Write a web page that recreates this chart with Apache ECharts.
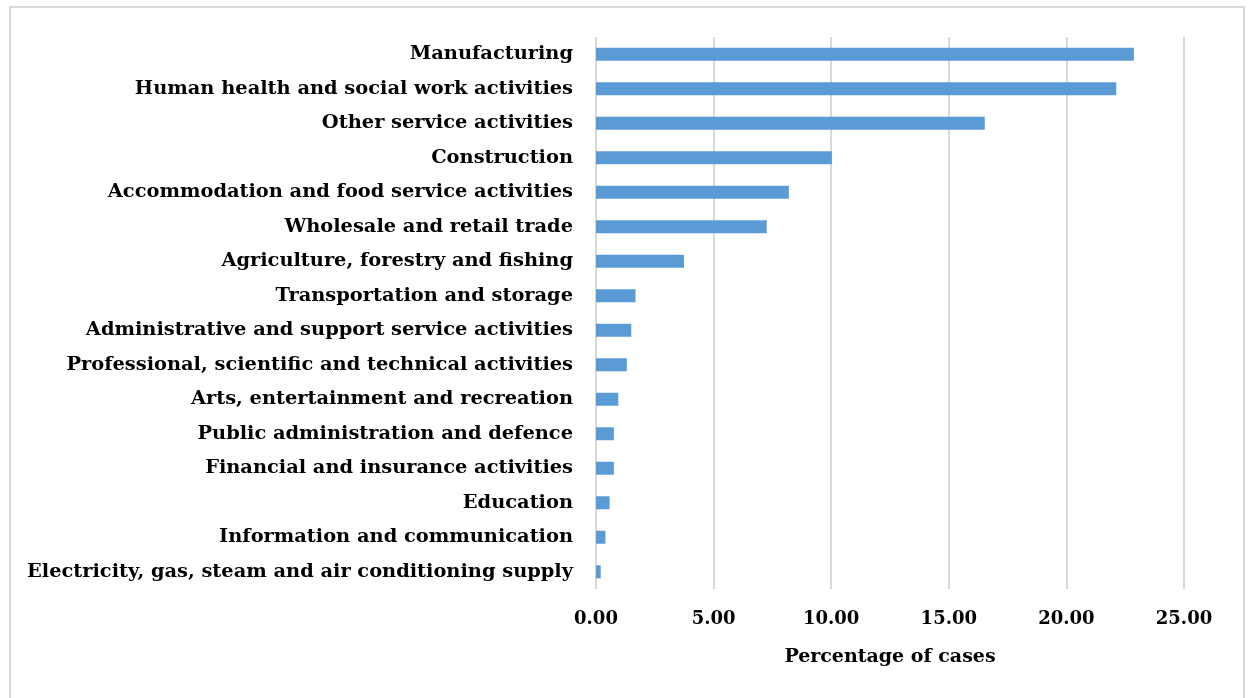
<!DOCTYPE html>
<html>
<head>
<meta charset="utf-8">
<title>Percentage of cases by sector</title>
<script src="https://cdn.jsdelivr.net/npm/echarts@6/dist/echarts.min.js"></script>
<style>
  html, body { margin: 0; padding: 0; background: #fff; }
  #chart { width: 1251px; height: 698px; }
</style>
</head>
<body>
<div id="chart"></div>
<script>
// Sectors, listed top to bottom
const sectors = [
  'Manufacturing',
  'Human health and social work activities',
  'Other service activities',
  'Construction',
  'Accommodation and food service activities',
  'Wholesale and retail trade',
  'Agriculture, forestry and fishing',
  'Transportation and storage',
  'Administrative and support service activities',
  'Professional, scientific and technical activities',
  'Arts, entertainment and recreation',
  'Public administration and defence',
  'Financial and insurance activities',
  'Education',
  'Information and communication',
  'Electricity, gas, steam and air conditioning supply'
];

// Share of cases per sector (%)
const percentages = [22.87, 22.12, 16.53, 10.03, 8.20, 7.26, 3.74, 1.68, 1.50, 1.31, 0.95, 0.76, 0.76, 0.58, 0.40, 0.20];

// Value axis settings
const axisMin = 0;
const axisMax = 25;
const axisStep = 5;
const axisTitle = 'Percentage of cases';

const fontFamily = 'DejaVu Serif, Liberation Serif, serif';

const chart = echarts.init(document.getElementById('chart'), null, { renderer: 'canvas' });

chart.setOption({
  backgroundColor: '#ffffff',
  animation: false,
  graphic: [{
    type: 'rect',
    shape: { x: 10, y: 7, width: 1234, height: 720 },
    style: { fill: 'none', stroke: '#d9d9d9', lineWidth: 2 },
    silent: true,
    z: -1
  }],
  grid: { left: 596, right: 67, top: 37, bottom: 109, containLabel: false },
  xAxis: {
    type: 'value',
    min: axisMin,
    max: axisMax,
    interval: axisStep,
    name: axisTitle,
    nameLocation: 'middle',
    nameGap: 59,
    nameTextStyle: { fontFamily, fontWeight: 'bold', fontSize: 19, color: '#000' },
    axisLine: { show: false },
    axisTick: { show: false },
    axisLabel: {
      margin: 21,
      fontFamily, fontWeight: 'bold', fontSize: 18, color: '#000',
      formatter: v => v.toFixed(2)
    },
    splitLine: { show: true, lineStyle: { color: '#d9d9d9', width: 2 } }
  },
  yAxis: {
    type: 'category',
    data: sectors,
    inverse: true,
    axisLine: { show: false },
    axisTick: { show: false },
    axisLabel: {
      margin: 23,
      fontFamily, fontWeight: 'bold', fontSize: 19.4, color: '#000'
    }
  },
  series: [{
    type: 'bar',
    data: percentages,
    barWidth: 13,
    itemStyle: { color: '#5b9bd5' }
  }]
});
</script>
</body>
</html>
